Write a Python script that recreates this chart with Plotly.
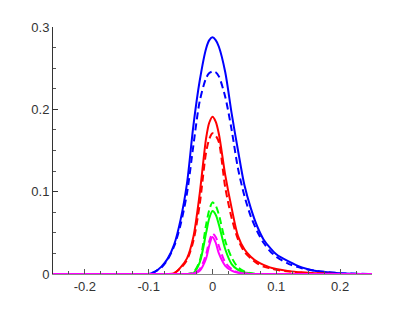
import plotly.graph_objects as go

# x samples (shared by every series)
x = [-0.25, -0.12, -0.10, -0.09, -0.08, -0.07, -0.06, -0.05, -0.04, -0.03, -0.02, -0.01,
     -0.005, 0.0, 0.005, 0.01, 0.02, 0.03, 0.04, 0.05, 0.06, 0.07, 0.08, 0.09, 0.10, 0.12,
     0.14, 0.16, 0.20, 0.25]

blue_solid = [0, 0, 0, 0.003, 0.009, 0.019, 0.036, 0.066, 0.110, 0.180, 0.235, 0.274,
              0.284, 0.2875, 0.284, 0.276, 0.245, 0.195, 0.150, 0.108, 0.080, 0.058, 0.042,
              0.032, 0.024, 0.015, 0.008, 0.004, 0.001, 0]
blue_dash = [0, 0, 0, 0.003, 0.008, 0.018, 0.034, 0.060, 0.098, 0.156, 0.210, 0.238,
             0.244, 0.246, 0.245, 0.240, 0.215, 0.175, 0.128, 0.095, 0.070, 0.052, 0.038,
             0.028, 0.021, 0.012, 0.007, 0.004, 0.001, 0]
red_solid = [0, 0, 0, 0, 0, 0, 0.001, 0.008, 0.019, 0.045, 0.098, 0.165,
             0.184, 0.191, 0.185, 0.170, 0.120, 0.080, 0.046, 0.030, 0.021, 0.015, 0.011,
             0.008, 0.006, 0.0035, 0.002, 0.001, 0, 0]
red_dash = [0, 0, 0, 0, 0, 0, 0.001, 0.007, 0.017, 0.040, 0.085, 0.148,
            0.164, 0.171, 0.168, 0.160, 0.105, 0.068, 0.042, 0.027, 0.019, 0.013, 0.009,
            0.007, 0.005, 0.003, 0.0015, 0.001, 0, 0]
green_solid = [0, 0, 0, 0, 0, 0, 0, 0, 0, 0.001, 0.014, 0.050,
               0.068, 0.0765, 0.072, 0.060, 0.030, 0.012, 0.005, 0.002, 0.001, 0, 0,
               0, 0, 0, 0, 0, 0, 0]
green_dash = [0, 0, 0, 0, 0, 0, 0, 0, 0, 0.002, 0.016, 0.060,
              0.078, 0.087, 0.083, 0.072, 0.040, 0.020, 0.008, 0.003, 0.001, 0, 0,
              0, 0, 0, 0, 0, 0, 0]
magenta_solid = [0, 0, 0, 0, 0, 0, 0, 0, 0, 0.0005, 0.004, 0.019,
                 0.035, 0.045, 0.038, 0.025, 0.010, 0.004, 0.0015, 0.0005, 0, 0, 0,
                 0, 0, 0, 0, 0, 0, 0]
magenta_dash = [0, 0, 0, 0, 0, 0, 0, 0, 0, 0.001, 0.006, 0.024,
                0.040, 0.049, 0.045, 0.034, 0.014, 0.006, 0.002, 0.001, 0, 0, 0,
                0, 0, 0, 0, 0, 0, 0]

xtick_vals = [-0.2, -0.1, 0, 0.1, 0.2]
xtick_text = ["-0.2", "-0.1", "0", "0.1", "0.2"]
ytick_vals = [0, 0.1, 0.2, 0.3]
ytick_text = ["0", "0.1", "0.2", "0.3"]

series = [
    (blue_solid, "#0000ff", "solid"),
    (blue_dash, "#0000ff", "7px,4px"),
    (red_solid, "#ff0000", "solid"),
    (red_dash, "#ff0000", "7px,4px"),
    (green_solid, "#00ff00", "solid"),
    (green_dash, "#00ff00", "7px,4px"),
    (magenta_solid, "#ff00ff", "solid"),
    (magenta_dash, "#ff00ff", "7px,4px"),
]

fig = go.Figure()
for ys, col, dash in series:
    fig.add_trace(go.Scatter(
        x=x, y=ys, mode="lines",
        line=dict(color=col, width=2, dash=dash, shape="spline", smoothing=0.8),
        cliponaxis=False, hoverinfo="none"
    ))

# page body adds an 8px offset, so the figure is sized/margined for it
fig.update_layout(
    width=404, height=301,
    margin=dict(l=45, r=40, t=15, b=35),
    showlegend=False,
    plot_bgcolor="white", paper_bgcolor="white",
    font=dict(family="Liberation Sans, Arial", size=13, color="#333333"),
    xaxis=dict(range=[-0.25, 0.25], showgrid=False, zeroline=False,
               showline=True, linecolor="#888888", linewidth=1,
               tickvals=xtick_vals, ticktext=xtick_text,
               ticks="inside", ticklen=5, tickcolor="#555555",
               minor=dict(dtick=0.025, tick0=0, ticks="inside", ticklen=3, tickcolor="#555555")),
    yaxis=dict(range=[0, 0.3], showgrid=False, zeroline=False,
               showline=True, linecolor="#333333", linewidth=1,
               tickvals=ytick_vals, ticktext=ytick_text,
               ticks="inside", ticklen=5, tickcolor="#333333",
               minor=dict(dtick=0.025, tick0=0, ticks="inside", ticklen=3, tickcolor="#555555")),
)

fig.write_html("out.html")
